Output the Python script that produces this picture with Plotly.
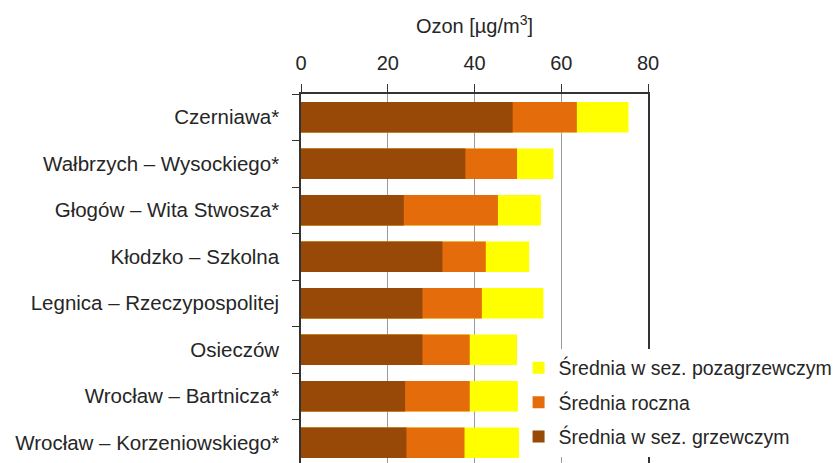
import plotly.graph_objects as go

# Ozone concentrations at monitoring stations [µg/m3]
stations = [
    "Czerniawa*",
    "Wałbrzych – Wysockiego*",
    "Głogów – Wita Stwosza*",
    "Kłodzko – Szkolna",
    "Legnica – Rzeczypospolitej",
    "Osieczów",
    "Wrocław – Bartnicza*",
    "Wrocław – Korzeniowskiego*",
]
non_heating = [75.5, 58.2, 55.3, 52.6, 55.9, 49.8, 50.0, 50.3]   # summer season mean
annual = [63.6, 49.8, 45.4, 42.6, 41.7, 38.9, 38.9, 37.7]        # annual mean
heating = [48.8, 37.9, 23.7, 32.6, 28.0, 28.0, 24.0, 24.3]       # heating season mean

x_ticks = [0, 20, 40, 60, 80]

FONT = "Liberation Sans, Arial, sans-serif"
TXT = "#262626"

fig = go.Figure()
series = [
    ("Średnia w sez. pozagrzewczym", non_heating, "#FFFF00"),
    ("Średnia roczna", annual, "#E46C0A"),
    ("Średnia w sez. grzewczym", heating, "#984807"),
]
for i, (name, vals, color) in enumerate(series):
    fig.add_trace(go.Bar(
        y=stations, x=vals, name=name, orientation="h",
        marker=dict(color=color, line=dict(width=0)),
        width=0.66, legendgroup=f"g{i}",
    ))

fig.update_layout(
    width=839, height=463,
    margin=dict(l=301, r=191, t=94, b=0, autoexpand=False),
    barmode="overlay",
    plot_bgcolor="white", paper_bgcolor="white",
    font=dict(family=FONT, size=20, color=TXT),
    showlegend=True,
    legend=dict(
        x=0.627, y=0.31, xanchor="left", yanchor="top",
        bgcolor="white", borderwidth=0,
        font=dict(family=FONT, size=19.5, color=TXT),
        traceorder="grouped",
        itemwidth=30,
        tracegroupgap=6,
    ),
    xaxis=dict(
        side="top", range=[0, 80], tickvals=x_ticks,
        showgrid=True, gridcolor="#9a9a9a", gridwidth=1,
        showline=True, linecolor="#333333", linewidth=1.5,
        ticks="outside", ticklen=8, tickcolor="#333333",
        ticklabelstandoff=6,
        tickfont=dict(size=20, color=TXT),
        title=dict(text="Ozon [µg/m<sup>3</sup>]", font=dict(size=20, color=TXT), standoff=13),
        zeroline=False, fixedrange=True, automargin=False,
    ),
    yaxis=dict(
        type="category", categoryorder="array", categoryarray=stations,
        range=[7.435, -0.5],
        showline=True, linecolor="#333333", linewidth=1.5, mirror=True,
        ticks="outside", ticklen=7, tickcolor="#333333", tickson="boundaries",
        ticklabelstandoff=16,
        tickfont=dict(size=20.5, color=TXT),
        showgrid=False, fixedrange=True, automargin=False,
    ),
)

fig.write_html("out.html")
